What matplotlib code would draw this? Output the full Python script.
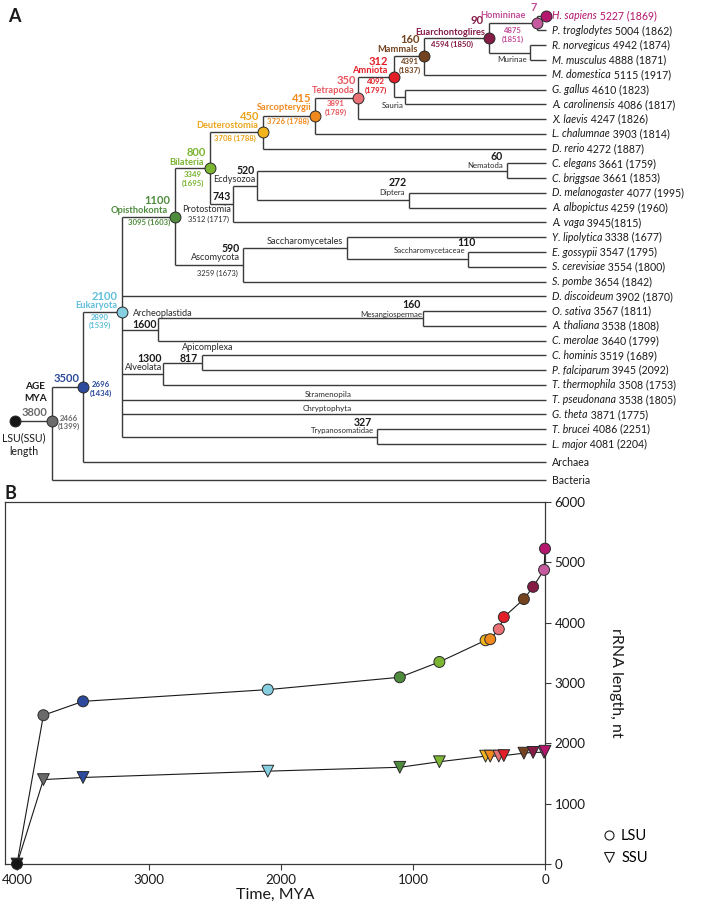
import matplotlib.pyplot as plt
from matplotlib.lines import Line2D

plt.rcParams['font.family'] = ['Lato', 'DejaVu Sans']

# ---------------- data ----------------
# human lineage: node ages (MYA) and LSU / SSU rRNA lengths
lineage_nodes = ['luca', 'n3800', 'n3500', 'euk', 'opis', 'bilat', 'deut', 'sarc',
                 'tetra', 'amnio', 'mamm', 'euarch', 'homin', 'H. sapiens']
lineage_names = ['', '', '', 'Eukaryota', 'Opisthokonta', 'Bilateria', 'Deuterostomia',
                 'Sarcopterygii', 'Tetrapoda', 'Amniota', 'Mammals', 'Euarchontoglires',
                 'Homininae', '']
age_mya = [4000, 3800, 3500, 2100, 1100, 800, 450, 415, 350, 312, 160, 90, 7, 0]
lsu_len = [0, 2466, 2696, 2890, 3095, 3349, 3708, 3726, 3891, 4092, 4391, 4594, 4875, 5227]
ssu_len = [0, 1399, 1434, 1539, 1603, 1695, 1788, 1788, 1789, 1797, 1837, 1850, 1851, 1869]
lineage_colors = ['#151515', '#6b6b6b', '#2d4a9c', '#86cfe0', '#4e8b3d', '#7bb531',
                  '#f1b41c', '#f0891d', '#ea7276', '#e31e28', '#74431f', '#861b46',
                  '#c65a9f', '#b4166d']
lineage_text = ['#151515', '#6b6b6b', '#2d4a9c', '#5fbfd9', '#4e8b3d', '#7bb531',
                '#eba41b', '#f0891d', '#e9565e', '#e31e28', '#74431f', '#861b46',
                '#c34d99', '#b4166d']

# leaves of the tree
leaf_species = ['H. sapiens', 'P. troglodytes', 'R. norvegicus', 'M. musculus', 'M. domestica',
                'G. gallus', 'A. carolinensis', 'X. laevis', 'L. chalumnae', 'D. rerio',
                'C. elegans', 'C. briggsae', 'D. melanogaster', 'A. albopictus', 'A. vaga',
                'Y. lipolytica', 'E. gossypii', 'S. cerevisiae', 'S. pombe', 'D. discoideum',
                'O. sativa', 'A. thaliana', 'C. merolae', 'C. hominis', 'P. falciparum',
                'T. thermophila', 'T. pseudonana', 'G. theta', 'T. brucei', 'L. major']
leaf_lsu = [5227, 5004, 4942, 4888, 5115, 4610, 4086, 4247, 3903, 4272, 3661, 3661, 4077,
            4259, 3945, 3338, 3547, 3554, 3654, 3902, 3567, 3538, 3640, 3519, 3945, 3508,
            3538, 3871, 4086, 4081]
leaf_ssu = [1869, 1862, 1874, 1871, 1917, 1823, 1817, 1826, 1814, 1887, 1759, 1853, 1995,
            1960, 1815, 1677, 1795, 1800, 1842, 1870, 1811, 1808, 1799, 1689, 2092, 1753,
            1805, 1775, 2251, 2204]
outgroups = ['Archaea', 'Bacteria']

# other clades: ages and names
side_nodes = ['ecdy', 'proto', 'asco', 'nema', 'dipt', 'sacceae', 'archeo', 'mesang',
              'alveo', 'apico', 'trypa']
side_ages = [520, 743, 590, 60, 272, 110, 1600, 160, 1300, 817, 327]
side_names = ['Ecdysozoa', 'Protostomia', 'Ascomycota', 'Nematoda', 'Diptera',
              'Saccharomycetaceae', 'Archeoplastida', 'Mesangiospermae', 'Alveolata',
              'Apicomplexa', 'Trypanosomatidae']
side_len = {'proto': '3512 (1717)', 'asco': '3259 (1673)'}
plain_names = ['Murinae', 'Sauria', 'Saccharomycetales', 'Stramenopila', 'Chryptophyta']

# topology
children = {
    'luca': ['n3800'],
    'n3800': ['n3500', 'Bacteria'],
    'n3500': ['euk', 'Archaea'],
    'euk': ['opis', 'D. discoideum', 'archeo', 'alveo', 'T. pseudonana', 'G. theta', 'trypa'],
    'opis': ['bilat', 'asco'],
    'bilat': ['deut', 'proto'],
    'deut': ['sarc', 'D. rerio'],
    'sarc': ['tetra', 'L. chalumnae'],
    'tetra': ['amnio', 'X. laevis'],
    'amnio': ['mamm', 'sauria'],
    'mamm': ['euarch', 'M. domestica'],
    'euarch': ['homin', 'murinae'],
    'homin': ['H. sapiens', 'P. troglodytes'],
    'murinae': ['R. norvegicus', 'M. musculus'],
    'sauria': ['G. gallus', 'A. carolinensis'],
    'proto': ['ecdy', 'A. vaga'],
    'ecdy': ['nema', 'dipt'],
    'nema': ['C. elegans', 'C. briggsae'],
    'dipt': ['D. melanogaster', 'A. albopictus'],
    'asco': ['saccales', 'S. pombe'],
    'saccales': ['Y. lipolytica', 'sacceae'],
    'sacceae': ['E. gossypii', 'S. cerevisiae'],
    'archeo': ['mesang', 'C. merolae'],
    'mesang': ['O. sativa', 'A. thaliana'],
    'alveo': ['apico', 'T. thermophila'],
    'apico': ['C. hominis', 'P. falciparum'],
    'trypa': ['T. brucei', 'L. major'],
}

# ---------------- layout (pixels of panel A) ----------------
node_x = {'luca': 15, 'n3800': 52, 'n3500': 83, 'euk': 122, 'opis': 175, 'bilat': 210,
          'deut': 263, 'sarc': 315, 'tetra': 358, 'amnio': 394, 'mamm': 424, 'euarch': 489,
          'homin': 537, 'murinae': 530, 'sauria': 405, 'proto': 233, 'ecdy': 257,
          'nema': 507, 'dipt': 409, 'asco': 243, 'saccales': 347, 'sacceae': 468,
          'archeo': 158, 'mesang': 423, 'alveo': 163, 'apico': 202, 'trypa': 377}
leaf_x = 546
row_y = {sp: 15.7 + 14.77 * i for i, sp in enumerate(leaf_species)}
row_y['Archaea'] = 462
row_y['Bacteria'] = 480
node_y_fix = {'euk': 312, 'n3800': 421}

# label offsets for lineage nodes: age (dx, dy), name (dx, dy), lengths (dx, dy, two-line)
age_off = {'n3800': (-17, -9), 'n3500': (-16.5, -8), 'euk': (-17, -16), 'opis': (-17.5, -16),
           'bilat': (-13.5, -16), 'deut': (-13.5, -16), 'sarc': (-13, -17), 'tetra': (-12, -17),
           'amnio': (-16, -15), 'mamm': (-14, -17), 'euarch': (-12, -17), 'homin': (-3, -16)}
name_off = {'euk': (-5, -7), 'opis': (-7, -6), 'bilat': (-6, -6), 'deut': (-5, -7),
            'sarc': (-4, -8), 'tetra': (-3, -7), 'amnio': (-6, -6), 'mamm': (-6, -7),
            'euarch': (-4, -5.5), 'homin': (-11, -7.5)}
len_off = {'n3800': (16.5, 1.5, True), 'n3500': (18, 2, True), 'euk': (-22.5, 9.5, True),
           'opis': (-25.5, 6, False), 'bilat': (-17.5, 11, True), 'deut': (-28, 6, False),
           'sarc': (-27, 6, False), 'tetra': (-22, 10.5, True), 'amnio': (-18, 9.5, True),
           'mamm': (-14, 10, True), 'euarch': (-37, 7, False), 'homin': (-24, 12, True)}

side_age_pos = {'ecdy': (255, 170, 'right'), 'proto': (231, 197, 'right'),
                'asco': (240, 248, 'right'), 'nema': (497, 156, 'center'),
                'dipt': (397.5, 183, 'center'), 'sacceae': (466, 242, 'center'),
                'archeo': (157, 325, 'right'), 'mesang': (411, 304, 'center'),
                'alveo': (162, 359, 'right'), 'apico': (198, 358, 'right'),
                'trypa': (362.5, 422, 'center')}
side_name_pos = {'ecdy': (255, 180, 'right'), 'proto': (231, 210, 'right'),
                 'asco': (240, 258, 'right'), 'nema': (503, 165, 'right'),
                 'dipt': (405, 193, 'right'), 'sacceae': (465, 250, 'right'),
                 'archeo': (133, 314, 'left'), 'mesang': (422, 315, 'right'),
                 'alveo': (162, 368, 'right'), 'apico': (182, 347, 'left'),
                 'trypa': (374, 431, 'right')}
side_len_pos = {'proto': (208, 219), 'asco': (217, 273)}
plain_pos = [(527, 60), (404, 105), (343, 242), (352, 394), (352, 409)]

LINE = '#3a3a3a'

fig = plt.figure(figsize=(7.01, 9.05), dpi=100)
ax = fig.add_axes([0, 1 - 490 / 905, 1, 490 / 905])
ax.set_xlim(0, 701)
ax.set_ylim(490, 0)
ax.axis('off')


def xpos(n):
    return node_x.get(n, leaf_x)


def ypos(n):
    if n in row_y:
        return row_y[n]
    if n in node_y_fix:
        return node_y_fix[n]
    ch = children[n]
    return (ypos(ch[0]) + ypos(ch[-1])) / 2


# branches
for n, ch in children.items():
    x0 = xpos(n)
    ys = [ypos(c) for c in ch]
    if len(ch) > 1:
        ax.plot([x0, x0], [min(ys), max(ys)], color=LINE, lw=1.0, solid_capstyle='butt')
    for c in ch:
        ax.plot([x0, xpos(c)], [ypos(c), ypos(c)], color=LINE, lw=1.0, solid_capstyle='butt')

# leaf labels
for sp, l, s in zip(leaf_species, leaf_lsu, leaf_ssu):
    col = lineage_text[-1] if sp == 'H. sapiens' else '#1a1a1a'
    y = row_y[sp] + 3.5
    t = ax.text(leaf_x + 6, y, sp, style='italic', fontsize=7.6, color=col, va='baseline')
    sep = '' if sp == 'A. vaga' else ' '
    ax.annotate(f' {l}{sep}({s})', xy=(1, y), xycoords=(t, 'data'), fontsize=7.6,
                color=col, va='baseline', ha='left')
for og in outgroups:
    ax.text(leaf_x + 6, row_y[og] + 3.5, og, fontsize=7.6, color='#1a1a1a', va='baseline')

# lineage nodes: dots and labels
for n, name, a, l, s, c, tc in zip(lineage_nodes, lineage_names, age_mya, lsu_len, ssu_len,
                                   lineage_colors, lineage_text):
    x, y = xpos(n), ypos(n)
    ax.scatter([x], [y], s=62, color=c, edgecolors='#2a2a2a', linewidths=0.7, zorder=5)
    if n in age_off:
        dx, dy = age_off[n]
        ax.text(x + dx, y + dy, str(a), fontsize=8, fontweight='bold', color=tc,
                ha='center', va='center')
    if n in name_off:
        dx, dy = name_off[n]
        ax.text(x + dx, y + dy, name, fontsize=6.7, fontweight='bold', color=tc,
                ha='right', va='center')
    if n in len_off:
        dx, dy, two = len_off[n]
        txt = f'{l}\n({s})' if two else f'{l} ({s})'
        ax.text(x + dx, y + dy, txt, fontsize=5.6, fontweight='bold', color=tc,
                ha='center', va='center', linespacing=1.25)

# other clades
for n, a, name in zip(side_nodes, side_ages, side_names):
    x, y, ha = side_age_pos[n]
    ax.text(x, y, str(a), fontsize=7.6, fontweight='bold', color='#1a1a1a', ha=ha, va='center')
    x, y, ha = side_name_pos[n]
    fs = 5.6 if n in ('sacceae', 'mesang', 'trypa', 'nema', 'dipt') else 6.6
    ax.text(x, y, name, fontsize=fs, color='#2a2a2a', ha=ha, va='center')
    if n in side_len:
        x, y = side_len_pos[n]
        ax.text(x, y, side_len[n], fontsize=5.4, color='#2a2a2a', ha='center', va='center')
for name, (x, y) in zip(plain_names, plain_pos):
    fs = 6.6 if name == 'Saccharomycetales' else 5.8
    ax.text(x, y, name, fontsize=fs, color='#2a2a2a', ha='right', va='center')

ax.text(35.5, 392.5, 'AGE\nMYA', fontsize=7.2, fontweight='bold', color='#1a1a1a',
        ha='center', va='center', linespacing=1.35)
ax.text(23.5, 444.5, 'LSU(SSU)\nlength', fontsize=7.6, color='#1a1a1a',
        ha='center', va='center', linespacing=1.3)
ax.text(8, 17, 'A', fontsize=13, fontweight='bold', color='#1a1a1a', va='center')

# ---------------- panel B ----------------
axb = fig.add_axes([5 / 701, (905 - 864) / 905, 540 / 701, 362 / 905])
axb.plot(age_mya, lsu_len, color='#1a1a1a', lw=0.8, zorder=2)
axb.plot(age_mya, ssu_len, color='#1a1a1a', lw=0.8, zorder=2)
axb.scatter(age_mya, lsu_len, s=62, c=lineage_colors, edgecolors='#2a2a2a', linewidths=0.7,
            marker='o', zorder=4, clip_on=False)
axb.scatter(age_mya, ssu_len, s=72, c=lineage_colors, edgecolors='#2a2a2a', linewidths=0.7,
            marker='v', zorder=3, clip_on=False)
axb.set_xlim(4091, 0)
axb.set_ylim(0, 6000)
axb.set_xticks([4000, 3000, 2000, 1000, 0])
axb.set_yticks(range(0, 6001, 1000))
axb.yaxis.tick_right()
axb.yaxis.set_label_position('right')
for sp in axb.spines.values():
    sp.set_color('#3a3a3a')
    sp.set_linewidth(0.9)
axb.tick_params(direction='out', length=4, width=0.8, color='#3a3a3a', labelsize=9.6,
                labelcolor='#1a1a1a', pad=3)
axb.set_xlabel('Time, MYA', fontsize=11.5, color='#1a1a1a', labelpad=1.5)
axb.set_ylabel('rRNA length, nt', fontsize=11.5, color='#1a1a1a', rotation=-90,
               labelpad=27)
handles = [Line2D([], [], ls='none', marker='o', mfc='white', mec='#1a1a1a', ms=6.5, mew=0.8),
           Line2D([], [], ls='none', marker='v', mfc='white', mec='#1a1a1a', ms=7, mew=0.8)]
axb.legend(handles, ['LSU', 'SSU'], loc='lower left', bbox_to_anchor=(1.095, -0.02),
           frameon=False, fontsize=10.5, handletextpad=0.3, labelspacing=0.55,
           handlelength=1.0, borderaxespad=0)
fig.text(5 / 701, 1 - 493 / 905, 'B', fontsize=13, fontweight='bold', color='#1a1a1a',
         va='center')

fig.savefig('out.png', dpi=100)
